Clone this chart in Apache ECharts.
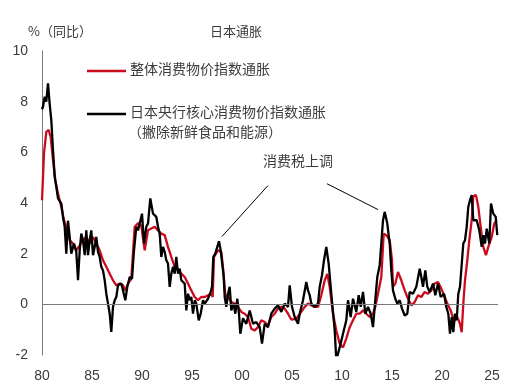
<!DOCTYPE html>
<html>
<head>
<meta charset="utf-8">
<script src="https://cdn.jsdelivr.net/npm/echarts@6/dist/echarts.min.js"></script>
<style>
html,body{margin:0;padding:0;background:#fff;}
#chart{width:517px;height:385px;}
</style>
</head>
<body>
<div id="chart"></div>
<script>
// Core CPI (black): decimal years and YoY %
const coreYears = [1980.0,1980.1,1980.27,1980.43,1980.6,1980.77,1980.93,1981.1,1981.27,1981.43,1981.6,1981.77,1981.93,1982.1,1982.27,1982.43,1982.6,1982.77,1982.93,1983.2,1983.43,1983.6,1983.77,1983.93,1984.1,1984.27,1984.43,1984.6,1984.77,1984.93,1985.1,1985.27,1985.43,1985.6,1985.77,1985.93,1986.1,1986.27,1986.43,1986.6,1986.77,1986.93,1987.1,1987.27,1987.43,1987.6,1987.93,1988.1,1988.33,1988.53,1988.77,1989.0,1989.2,1989.43,1989.6,1989.77,1990.0,1990.2,1990.43,1990.6,1990.83,1991.1,1991.43,1991.6,1991.77,1991.93,1992.1,1992.27,1992.43,1992.6,1992.77,1992.93,1993.1,1993.27,1993.43,1993.6,1993.77,1993.93,1994.1,1994.27,1994.43,1994.6,1994.77,1994.93,1995.1,1995.27,1995.43,1995.67,1995.87,1996.1,1996.27,1996.6,1996.87,1997.0,1997.13,1997.33,1997.53,1997.7,1997.87,1998.03,1998.17,1998.27,1998.43,1998.6,1998.77,1998.93,1999.17,1999.33,1999.53,1999.7,1999.83,2000.1,2000.43,2000.77,2001.1,2001.43,2001.77,2002.0,2002.27,2002.6,2002.93,2003.27,2003.6,2003.93,2004.27,2004.6,2004.77,2005.0,2005.27,2005.6,2005.77,2006.1,2006.43,2006.6,2006.77,2006.93,2007.27,2007.6,2007.77,2008.0,2008.2,2008.43,2008.67,2008.93,2009.27,2009.43,2009.77,2010.1,2010.43,2010.6,2010.87,2011.1,2011.43,2011.67,2011.87,2012.1,2012.33,2012.6,2012.87,2013.1,2013.27,2013.53,2013.77,2013.93,2014.1,2014.27,2014.53,2014.77,2014.93,2015.1,2015.33,2015.53,2015.77,2016.0,2016.27,2016.53,2016.77,2017.1,2017.43,2017.77,2017.93,2018.1,2018.33,2018.53,2018.77,2019.1,2019.33,2019.6,2019.87,2020.2,2020.43,2020.63,2020.8,2020.97,2021.13,2021.3,2021.47,2021.63,2021.8,2021.97,2022.13,2022.3,2022.47,2022.63,2022.8,2022.97,2023.13,2023.47,2023.73,2023.97,2024.13,2024.3,2024.47,2024.73,2024.9,2025.13,2025.37,2025.53];
const coreValues = [7.7,7.8,8.2,8.0,8.72,7.9,7.27,6.09,5.03,4.64,4.18,4.24,3.98,3.45,3.06,2.0,3.3,2.66,2.0,2.4,2.07,0.95,2.13,2.79,2.53,1.94,2.92,1.94,2.53,2.92,1.94,2.27,2.66,2.07,1.87,1.48,1.34,0.95,0.42,0.03,-0.37,-1.09,-0.1,0.16,0.29,0.75,0.82,0.55,0.16,0.69,1.08,1.01,2.13,3.06,2.92,3.19,3.58,2.4,3.06,3.19,4.18,3.58,3.45,3.06,2.79,1.87,2.27,2.07,1.74,1.61,0.69,1.21,1.48,1.21,1.87,1.21,1.41,0.95,0.95,0.82,-0.24,0.42,0.16,0.29,-0.37,0.16,0.03,-0.63,-0.37,0.16,0.03,0.22,0.49,0.69,1.87,2.0,2.27,2.49,2.13,2.2,1.08,0.29,-0.1,0.42,0.69,-0.24,0.03,-0.37,0.22,-0.37,-1.16,-0.55,-0.77,-0.24,-0.77,-0.7,-0.9,-1.55,-0.77,-0.9,-0.37,-0.17,-0.04,-0.3,0.03,-0.1,0.75,-0.1,-0.5,-0.77,-0.37,0.16,0.88,0.55,0.36,0.03,-0.1,0.03,0.69,1.15,1.74,2.27,1.6,0.42,-1.03,-2.2,-1.7,-1.16,-0.63,0.16,-0.5,0.22,-0.3,0.36,-0.1,0.49,-0.37,-0.1,-0.37,-0.9,-0.1,1.08,1.54,1.48,3.32,3.65,3.19,2.4,1.34,0.55,0.22,0.03,0.16,-0.17,-0.44,-0.37,0.49,0.42,0.69,1.41,1.08,0.69,1.34,0.69,0.49,0.82,0.36,0.82,0.29,0.42,-0.1,-0.37,-1.16,-0.5,-1.1,-0.37,-0.63,0.42,0.69,0.75,2.4,2.53,3.06,3.85,4.11,4.31,3.32,3.32,2.92,2.27,2.73,2.4,2.99,2.4,3.98,3.58,3.45,2.73];

// Headline CPI (red): decimal years and YoY %
const headlineYears = [1980.0,1980.2,1980.43,1980.67,1980.87,1981.1,1981.33,1981.6,1981.93,1982.2,1982.43,1982.77,1983.1,1983.43,1983.77,1984.1,1984.43,1984.77,1985.1,1985.43,1985.77,1986.1,1986.43,1986.77,1987.1,1987.43,1987.77,1988.1,1988.33,1988.6,1988.93,1989.27,1989.6,1989.93,1990.27,1990.6,1990.93,1991.27,1991.6,1991.93,1992.27,1992.6,1992.93,1993.27,1993.6,1993.93,1994.27,1994.6,1994.93,1995.27,1995.6,1995.93,1996.27,1996.6,1996.87,1997.07,1997.2,1997.6,1997.93,1998.13,1998.33,1998.6,1998.93,1999.27,1999.6,1999.93,2000.27,2000.6,2000.93,2001.27,2001.6,2001.93,2002.27,2002.6,2002.93,2003.27,2003.6,2003.93,2004.27,2004.6,2004.93,2005.43,2005.93,2006.27,2006.6,2006.93,2007.27,2007.6,2007.93,2008.27,2008.53,2008.77,2009.1,2009.43,2009.77,2010.1,2010.43,2010.77,2011.1,2011.43,2011.77,2012.1,2012.43,2012.77,2013.1,2013.33,2013.6,2013.93,2014.17,2014.43,2014.77,2015.0,2015.1,2015.33,2015.6,2015.93,2016.27,2016.6,2016.93,2017.27,2017.6,2017.93,2018.27,2018.6,2018.93,2019.27,2019.6,2019.93,2020.27,2020.53,2020.87,2021.07,2021.3,2021.53,2021.8,2021.97,2022.13,2022.3,2022.53,2022.73,2022.97,2023.13,2023.4,2023.63,2023.87,2024.13,2024.4,2024.63,2024.97,2025.23,2025.47];
const headlineValues = [4.11,5.96,6.81,6.88,6.6,5.7,4.9,4.37,3.85,3.32,3.06,2.53,2.4,2.13,2.33,2.53,2.66,2.4,2.66,2.4,2.13,1.74,1.48,1.21,0.95,0.75,0.82,0.75,0.55,0.82,1.01,3.06,3.2,3.1,2.13,2.92,2.99,3.06,2.92,2.79,2.73,2.27,1.87,1.48,1.34,1.21,1.08,0.82,0.55,0.29,0.16,0.29,0.29,0.36,0.42,0.29,1.87,2.13,2.07,1.34,0.36,0.29,0.09,0.03,-0.1,-0.3,-0.37,-0.5,-0.96,-1.03,-0.9,-0.63,-0.7,-0.83,-0.5,-0.37,-0.17,-0.1,-0.17,-0.37,-0.6,-0.57,-0.3,-0.1,0.03,-0.04,-0.1,-0.1,0.36,0.95,1.2,0.69,-0.37,-1.03,-1.55,-1.7,-1.35,-0.9,-0.63,-0.37,-0.37,-0.24,-0.37,-0.5,-0.37,-0.1,0.42,1.08,2.79,2.73,2.53,1.74,0.69,0.82,1.28,0.95,0.55,0.22,-0.04,0.09,0.36,0.29,0.49,0.42,0.55,0.82,0.88,0.62,0.3,0.03,-0.24,-0.5,-0.63,-0.5,-0.77,-1.1,0.03,0.95,1.74,2.53,3.32,4.27,4.31,3.85,3.06,2.27,1.94,2.27,2.66,3.19,3.32];

const yTicks = [-2, 0, 2, 4, 6, 8, 10];
const xTickYears = [1980, 1985, 1990, 1995, 2000, 2005, 2010, 2015, 2020, 2025];

const seriesNames = ['整体消费物价指数通胀', '日本央行核心消费物价指数通胀'];
const coreNote = '（撇除新鲜食品和能源）';

const zip = (xs, ys) => xs.map((x, i) => [x, ys[i]]);

const TXT = '#3c3c3c';
const FONT = '"Liberation Sans", "Noto Sans CJK SC", sans-serif';
const CJK = '"Noto Sans CJK SC", sans-serif';
const RED = '#cc0a1e';

const chart = echarts.init(document.getElementById('chart'), null, {renderer: 'canvas'});
chart.setOption({
  animation: false,
  backgroundColor: '#fff',
  grid: {left: 42, right: 19, top: 51, bottom: 30, containLabel: false},
  xAxis: {
    type: 'value',
    min: 1980,
    max: 2025.6,
    interval: 5,
    axisLine: {show: false, onZero: false},
    axisTick: {show: false},
    splitLine: {show: false},
    axisLabel: {
      color: TXT, fontSize: 14, fontFamily: FONT, margin: 14,
      showMaxLabel: false,
      formatter: v => xTickYears.indexOf(Math.round(v)) >= 0 && Math.abs(v - Math.round(v)) < 1e-6
        ? String(Math.round(v) % 100).padStart(2, '0') : ''
    }
  },
  yAxis: {
    type: 'value',
    min: yTicks[0],
    max: yTicks[yTicks.length - 1],
    interval: 2,
    axisLine: {show: true, onZero: false, lineStyle: {color: '#7a7a7a', width: 1}},
    axisTick: {show: false},
    splitLine: {show: false},
    axisLabel: {color: TXT, fontSize: 14, fontFamily: FONT, margin: 14}
  },
  series: [
    {
      name: seriesNames[0],
      type: 'line',
      data: zip(headlineYears, headlineValues),
      showSymbol: false,
      symbol: 'none',
      lineStyle: {color: RED, width: 2.3},
      itemStyle: {color: RED},
      z: 2,
      markLine: {
        silent: true,
        symbol: 'none',
        label: {show: false},
        lineStyle: {color: '#7a7a7a', width: 1, type: 'solid'},
        data: [{yAxis: 0}]
      }
    },
    {
      name: seriesNames[1],
      type: 'line',
      data: zip(coreYears, coreValues),
      showSymbol: false,
      symbol: 'none',
      lineStyle: {color: '#000', width: 2.3},
      itemStyle: {color: '#000'},
      z: 3,
      markLine: {
        silent: true,
        symbol: 'none',
        label: {show: false},
        lineStyle: {color: '#000', width: 1, type: 'solid'},
        data: [
          [{coord: [2002.6, 4.69]}, {coord: [1998.0, 2.68]}],
          [{coord: [2008.5, 4.76]}, {coord: [2013.6, 3.74]}]
        ]
      }
    }
  ],
  graphic: [
    {type: 'text', left: 28, top: 25, style: {text: '%（同比）', fill: TXT, font: '13px ' + CJK}},
    {type: 'text', left: 210, top: 25, style: {text: '日本通胀', fill: TXT, font: '13px ' + CJK}},
    {type: 'line', shape: {x1: 87, y1: 71, x2: 126, y2: 71}, style: {stroke: RED, lineWidth: 2.5}},
    {type: 'text', left: 130, top: 62, style: {text: seriesNames[0], fill: TXT, font: '14px ' + CJK}},
    {type: 'line', shape: {x1: 87, y1: 114, x2: 126, y2: 114}, style: {stroke: '#000', lineWidth: 2.5}},
    {type: 'text', left: 130, top: 105, style: {text: seriesNames[1], fill: TXT, font: '14px ' + CJK}},
    {type: 'text', left: 128, top: 125, style: {text: coreNote, fill: TXT, font: '14px ' + CJK}},
    {type: 'text', left: 263, top: 154, style: {text: '消费税上调', fill: TXT, font: '14px ' + CJK}}
  ]
});
</script>
</body>
</html>
